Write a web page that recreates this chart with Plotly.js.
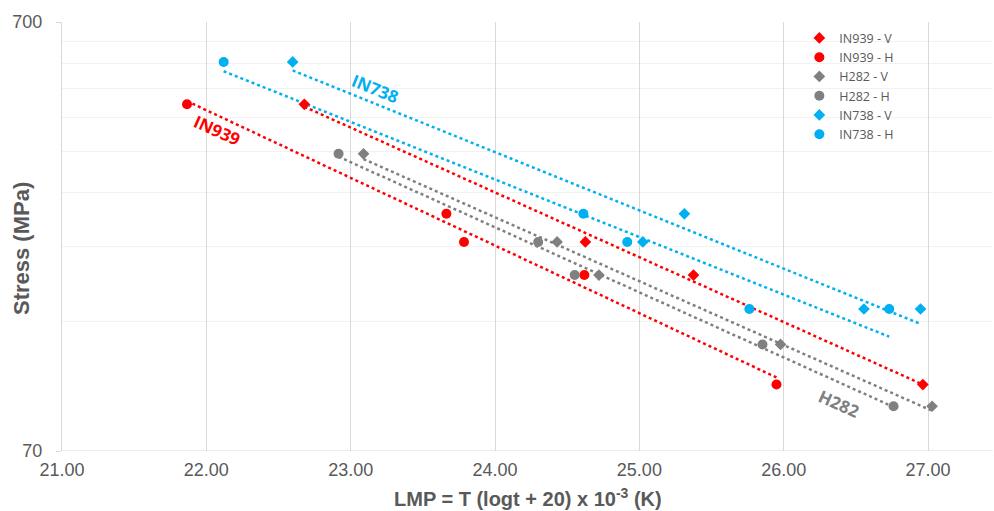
<!DOCTYPE html>
<html>
<head>
<meta charset="utf-8">
<script src="https://cdn.plot.ly/plotly-3.0.1.min.js"></script>
<style>html,body{margin:0;padding:0;background:#fff;}#chart{width:994px;height:511px;}</style>
</head>
<body>
<div id="chart"></div>
<script>
// ---- Data (LMP, Stress MPa) ----
const in939V_x = [22.679, 24.626, 25.375, 26.964];
const in939V_y = [450, 215, 180, 100];
const in939H_x = [21.866, 23.663, 23.785, 24.619, 25.950];
const in939H_y = [450, 250, 215, 180, 100];
const h282V_x = [23.089, 24.430, 24.720, 25.978, 27.028];
const h282V_y = [345, 215, 180, 124, 89];
const h282H_x = [22.916, 24.299, 24.552, 25.853, 26.761];
const h282H_y = [345, 215, 180, 124, 89];
const in738V_x = [22.598, 25.024, 25.312, 26.556, 26.948];
const in738V_y = [565, 215, 250, 150, 150];
const in738H_x = [22.120, 24.612, 24.916, 25.762, 26.731];
const in738H_y = [565, 250, 215, 150, 150];

const seriesNames = ['IN939 - V','IN939 - H','H282 - V','H282 - H','IN738 - V','IN738 - H'];
const xTickVals = [21, 22, 23, 24, 25, 26, 27];
const yTickVals = [70, 700];
const yMinorVals = [140, 210, 280, 350, 420, 490, 560, 630];
const xTitle = 'LMP = T (logt + 20) x 10<sup>-3</sup> (K)';
const yTitle = 'Stress (MPa)';

const RED = '#FF0000', GRAY = '#808080', CYAN = '#00B0F0';
const series = [
  {name: seriesNames[0], x: in939V_x, y: in939V_y, color: RED,  symbol: 'diamond', size: 9},
  {name: seriesNames[1], x: in939H_x, y: in939H_y, color: RED,  symbol: 'circle',  size: 10},
  {name: seriesNames[2], x: h282V_x,  y: h282V_y,  color: GRAY, symbol: 'diamond', size: 9},
  {name: seriesNames[3], x: h282H_x,  y: h282H_y,  color: GRAY, symbol: 'circle',  size: 10},
  {name: seriesNames[4], x: in738V_x, y: in738V_y, color: CYAN, symbol: 'diamond', size: 9},
  {name: seriesNames[5], x: in738H_x, y: in738H_y, color: CYAN, symbol: 'circle',  size: 10}
];

// exponential trendline (linear fit of log10(y) on x), spanning each series' x extent
function trend(xs, ys) {
  const n = xs.length;
  const ly = ys.map(v => Math.log10(v));
  const mx = xs.reduce((a,b)=>a+b,0)/n, my = ly.reduce((a,b)=>a+b,0)/n;
  let sxy = 0, sxx = 0;
  for (let i=0;i<n;i++){ sxy += (xs[i]-mx)*(ly[i]-my); sxx += (xs[i]-mx)*(xs[i]-mx); }
  const b = sxy/sxx, a = my - b*mx;
  const x0 = Math.min(...xs), x1 = Math.max(...xs);
  return {x:[x0,x1], y:[Math.pow(10,a+b*x0), Math.pow(10,a+b*x1)]};
}

const traces = [];
series.forEach(s => {
  const t = trend(s.x, s.y);
  traces.push({x: t.x, y: t.y, mode: 'lines', showlegend: false, hoverinfo: 'skip',
    line: {color: s.color, width: 2.5, dash: 'dot'}});
});
series.forEach(s => {
  traces.push({x: s.x, y: s.y, name: s.name, mode: 'markers', type: 'scatter',
    marker: {color: s.color, symbol: s.symbol, size: s.size}});
});

const layout = {
  width: 994, height: 511,
  margin: {l: 62, r: 1, t: 22, b: 60},
  paper_bgcolor: '#fff', plot_bgcolor: '#fff',
  font: {family: 'Liberation Sans, Arial, sans-serif', color: '#595959'},
  xaxis: {
    range: [21, 27.45], tickvals: xTickVals, tickformat: '.2f',
    showgrid: true, gridcolor: '#D9D9D9', gridwidth: 1, zeroline: false,
    showline: false, ticks: '', ticklabelstandoff: 6,
    tickfont: {family: 'Liberation Sans, Arial, sans-serif', size: 18, color: '#595959'}
  },
  yaxis: {
    type: 'log', range: [Math.log10(70), Math.log10(700)], tickvals: yTickVals,
    showgrid: true, gridcolor: '#E6E6E6', zeroline: false,
    showline: true, linecolor: '#D9D9D9', linewidth: 1,
    ticks: 'outside', ticklen: 5, tickcolor: '#D9D9D9', ticklabelstandoff: 10,
    minor: {tickvals: yMinorVals, showgrid: true, gridcolor: '#F2F2F2', gridwidth: 1, ticks: ''},
    tickfont: {family: 'Liberation Sans, Arial, sans-serif', size: 18, color: '#595959'}
  },
  legend: {
    x: 0.792, y: 0.997, xanchor: 'left', yanchor: 'top',
    bgcolor: 'rgba(255,255,255,0)', borderwidth: 0,
    font: {family: 'Open Sans, sans-serif', size: 12.5, color: '#595959'},
    itemwidth: 30, tracegroupgap: 0
  },
  shapes: [
    {type: 'line', xref: 'x', yref: 'y', x0: 21, x1: 27.45, y0: 70, y1: 70, line: {color: '#D9D9D9', width: 1}}
  ],
  annotations: [
    {text: '<b>' + xTitle + '</b>', xref: 'paper', yref: 'paper', x: 0.5, y: -0.1085,
      xanchor: 'center', yanchor: 'middle', showarrow: false,
      font: {family: 'Liberation Sans, Arial, sans-serif', size: 20, color: '#595959'}},
    {text: '<b>' + yTitle + '</b>', xref: 'paper', yref: 'paper', x: -0.0435, y: 0.472,
      xanchor: 'center', yanchor: 'middle', showarrow: false, textangle: -90,
      font: {family: 'Liberation Sans, Arial, sans-serif', size: 22, color: '#595959'}},
    {text: '<b>IN738</b>', xref: 'x', yref: 'y', x: 23.17, y: Math.log10(490), showarrow: false, textangle: 22,
      font: {family: 'Open Sans, sans-serif', size: 17, color: CYAN}},
    {text: '<b>IN939</b>', xref: 'x', yref: 'y', x: 22.08, y: Math.log10(392), showarrow: false, textangle: 24,
      font: {family: 'Open Sans, sans-serif', size: 17, color: RED}},
    {text: '<b>H282</b>', xref: 'x', yref: 'y', x: 26.38, y: Math.log10(90.5), showarrow: false, textangle: 24,
      font: {family: 'Open Sans, sans-serif', size: 17, color: GRAY}}
  ]
};

Plotly.newPlot('chart', traces, layout, {displayModeBar: false, staticPlot: true});
</script>
</body>
</html>
